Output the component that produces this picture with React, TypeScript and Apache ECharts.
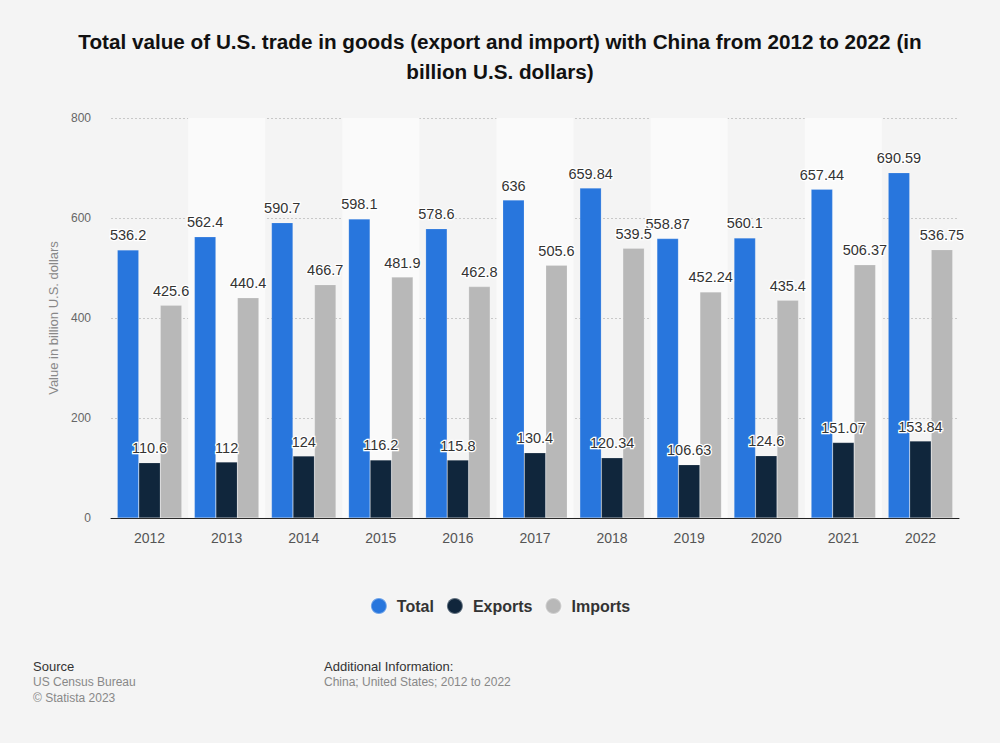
import React, { useEffect, useRef } from "react";
import * as echarts from "echarts";

const years = ["2012", "2013", "2014", "2015", "2016", "2017", "2018", "2019", "2020", "2021", "2022"];
const totalValues = [536.2, 562.4, 590.7, 598.1, 578.6, 636, 659.84, 558.87, 560.1, 657.44, 690.59];
const exportValues = [110.6, 112, 124, 116.2, 115.8, 130.4, 120.34, 106.63, 124.6, 151.07, 153.84];
const importValues = [425.6, 440.4, 466.7, 481.9, 462.8, 505.6, 539.5, 452.24, 435.4, 506.37, 536.75];
const yTicks = [0, 200, 400, 600, 800];

const FONT = "'Liberation Sans', Arial, Helvetica, sans-serif";

export default function App() {
  const ref = useRef<HTMLDivElement>(null);
  useEffect(() => {
    document.body.style.margin = "0";
    const chart = echarts.init(ref.current!, null, { renderer: "svg" });
    const label = {
      show: true,
      position: "top",
      distance: 7,
      color: "#333",
      fontSize: 14.5,
      fontFamily: FONT,
      textBorderColor: "#fff",
      textBorderWidth: 2.5,
    };
    const mk = (name: string, data: number[], color: string) => ({
      name,
      type: "bar",
      data,
      barWidth: 21.5,
      barGap: "0%",
      itemStyle: { color, borderColor: "rgba(255,255,255,0.35)", borderWidth: 0.5 },
      label,
    });
    chart.setOption({
      animation: false,
      backgroundColor: "#f4f4f4",
      textStyle: { fontFamily: FONT },
      title: {
        text: "Total value of U.S. trade in goods (export and import) with China from 2012 to 2022 (in\nbillion U.S. dollars)",
        left: "center",
        top: 21,
        textStyle: { fontSize: 20.7, fontWeight: "bold", color: "#111", lineHeight: 30, fontFamily: FONT },
      },
      legend: {
        top: 592,
        left: "center",
        icon: "circle",
        itemWidth: 26,
        itemHeight: 16,
        itemGap: 12,
        symbolKeepAspect: true,
        textStyle: { fontSize: 16, fontWeight: "bold", color: "#333", fontFamily: FONT },
        data: ["Total", "Exports", "Imports"],
      },
      grid: { left: 111, right: 41, top: 118, bottom: 225 },
      xAxis: {
        type: "category",
        data: years,
        axisLine: { show: true, lineStyle: { color: "#222", width: 1 } },
        axisTick: { show: false },
        axisLabel: { color: "#555", fontSize: 14, margin: 13, fontFamily: FONT },
        splitArea: { show: true, interval: 0, areaStyle: { color: ["rgba(0,0,0,0)", "#fafafa"] } },
      },
      yAxis: {
        type: "value",
        min: yTicks[0],
        max: yTicks[yTicks.length - 1],
        interval: 200,
        name: "Value in billion U.S. dollars",
        nameLocation: "middle",
        nameGap: 49,
        nameTextStyle: { color: "#888", fontSize: 13, fontFamily: FONT },
        axisLine: { show: false },
        axisTick: { show: false },
        axisLabel: { color: "#666", fontSize: 12, margin: 20, fontFamily: FONT },
        splitLine: { lineStyle: { color: "#c8c8c8", type: [2, 2] } },
      },
      series: [
        mk("Total", totalValues, "#2876dd"),
        mk("Exports", exportValues, "#10263c"),
        mk("Imports", importValues, "#b8b8b8"),
      ],
      graphic: [
        { type: "text", x: 33, y: 666, style: { text: "Source", fontSize: 13, fill: "#333", fontFamily: FONT, verticalAlign: "middle" } },
        { type: "text", x: 33, y: 682, style: { text: "US Census Bureau", fontSize: 12, fill: "#888", fontFamily: FONT, verticalAlign: "middle" } },
        { type: "text", x: 33, y: 697.5, style: { text: "© Statista 2023", fontSize: 12, fill: "#888", fontFamily: FONT, verticalAlign: "middle" } },
        { type: "text", x: 324, y: 666, style: { text: "Additional Information:", fontSize: 13, fill: "#333", fontFamily: FONT, verticalAlign: "middle" } },
        { type: "text", x: 324, y: 682, style: { text: "China; United States; 2012 to 2022", fontSize: 12, fill: "#888", fontFamily: FONT, verticalAlign: "middle" } },
      ],
    });
    return () => chart.dispose();
  }, []);
  return <div ref={ref} style={{ width: 1000, height: 743 }} />;
}
